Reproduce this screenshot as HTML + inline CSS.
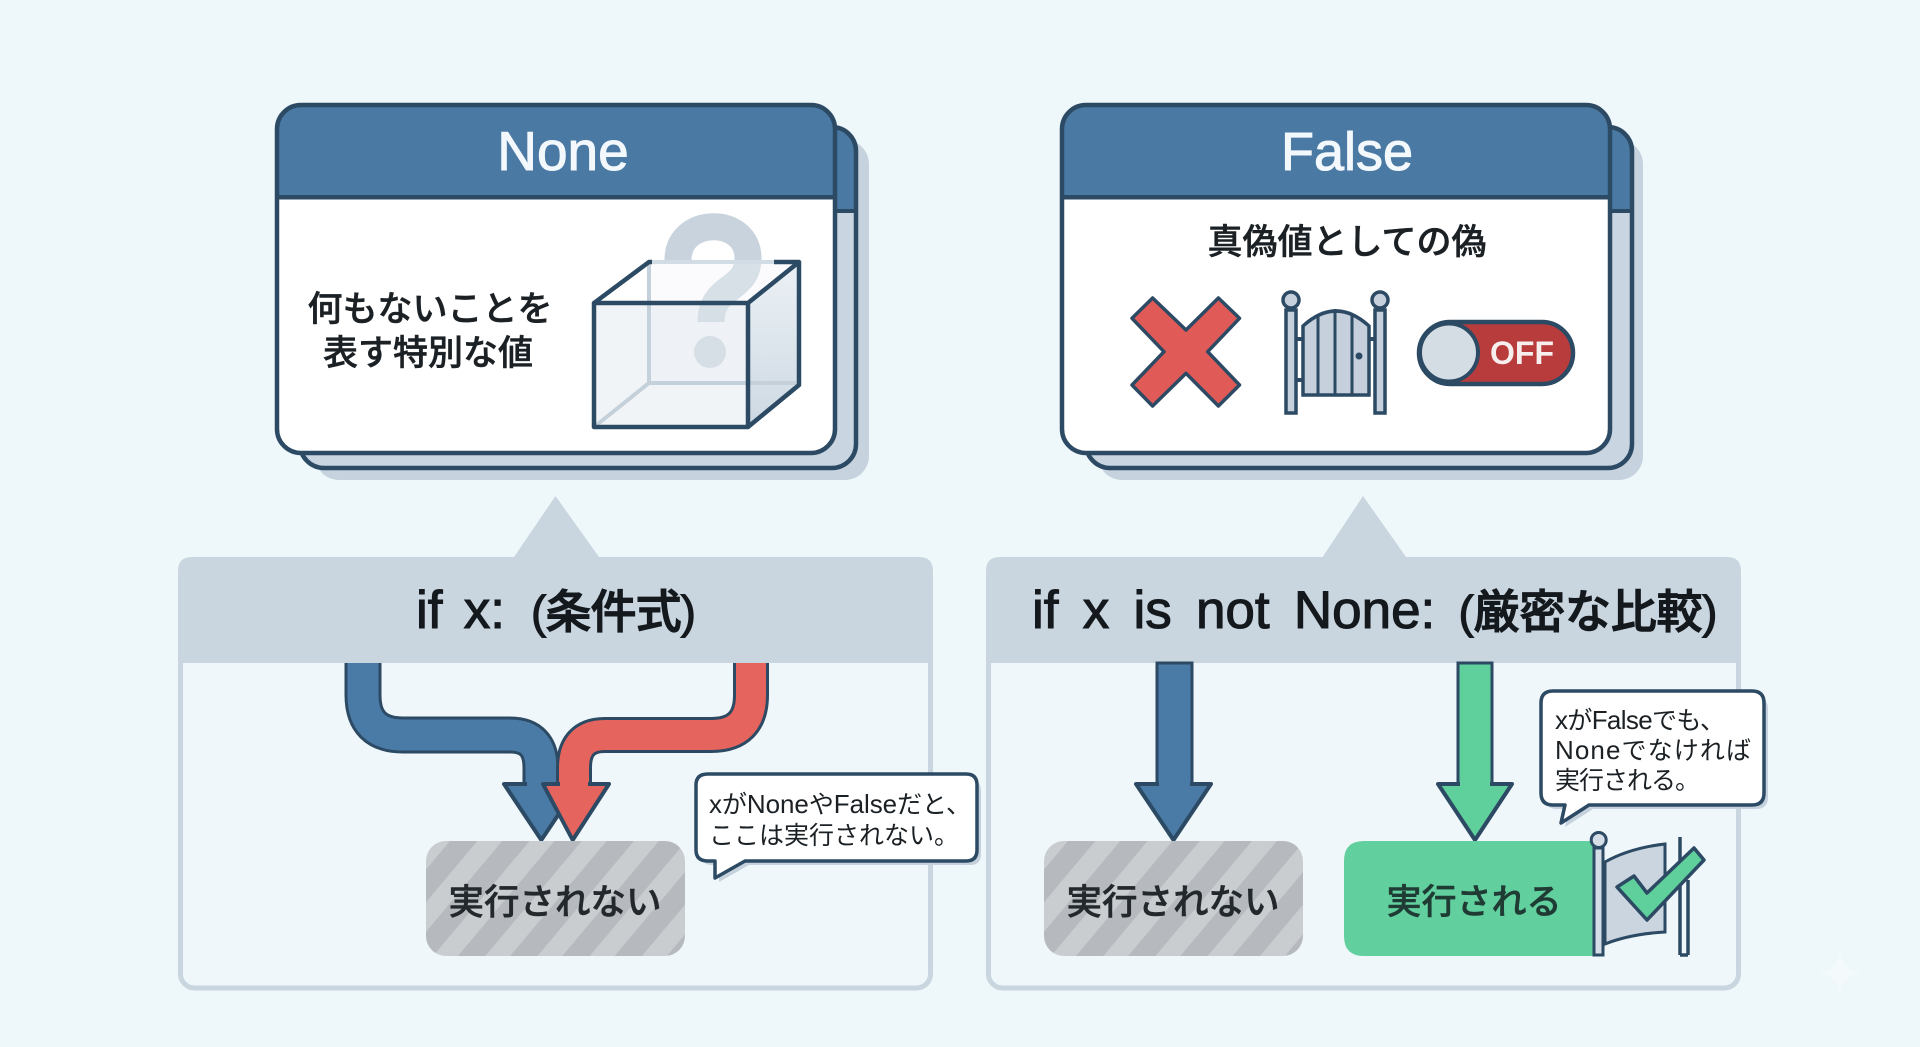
<!DOCTYPE html>
<html lang="ja"><head><meta charset="utf-8"><title>None と False</title>
<style>
html,body{margin:0;padding:0;width:1920px;height:1047px;overflow:hidden;background:#eef7fa}
svg{display:block}
text{font-family:"Liberation Sans","Noto Sans CJK JP",sans-serif}
.m{stroke:currentColor;stroke-width:.5px}
.h{stroke:#f2f8fb;stroke-width:1px}
.l{stroke:#14191d;stroke-width:1.1px}
</style></head><body>
<svg width="1920" height="1047" viewBox="0 0 1920 1047" xmlns="http://www.w3.org/2000/svg">
<defs>
<pattern id="st" width="40" height="40" patternUnits="userSpaceOnUse" patternTransform="translate(426 840) rotate(40)">
<rect width="40" height="40" fill="#b6babe"/><rect width="19" height="40" fill="#c9cdd0"/>
</pattern>
<linearGradient id="rf" x1="0" y1="0" x2="0" y2="1"><stop offset="0" stop-color="#dbe5ec" stop-opacity=".5"/><stop offset="1" stop-color="#c6d3de" stop-opacity=".9"/></linearGradient>
<clipPath id="c1"><rect x="277" y="105" width="558" height="348" rx="24"/></clipPath>
<clipPath id="c1b"><rect x="300" y="127" width="556" height="341" rx="24"/></clipPath>
<clipPath id="c2"><rect x="1062" y="105" width="548" height="348" rx="24"/></clipPath>
<clipPath id="c2b"><rect x="1086" y="127" width="546" height="341" rx="24"/></clipPath>
</defs>
<rect width="1920" height="1047" fill="#eef7fa"/>

<!-- None card -->
<rect x="315" y="140" width="554" height="340" rx="24" fill="#c6d2de"/>
<rect x="300" y="127" width="556" height="341" rx="24" fill="#c9d5e0"/>
<g clip-path="url(#c1b)"><rect x="300" y="127" width="556" height="83" fill="#4a79a4"/><rect x="300" y="209" width="556" height="4" fill="#2c4a63"/></g>
<rect x="300" y="127" width="556" height="341" rx="24" fill="none" stroke="#2c4a63" stroke-width="4.500"/>
<rect x="277" y="105" width="558" height="348" rx="24" fill="#fff"/>
<g clip-path="url(#c1)"><rect x="277" y="105" width="558" height="92" fill="#4a79a4"/><rect x="277" y="195" width="558" height="4.500" fill="#2c4a63"/></g>
<rect x="277" y="105" width="558" height="348" rx="24" fill="none" stroke="#2c4a63" stroke-width="4.500"/>
<text class="h" x="563" y="170" font-size="55" fill="#f2f8fb" text-anchor="middle">None</text>
<g font-size="35" font-weight="500" fill="#1b2024" color="#1b2024" text-anchor="middle">
<text class="m" x="430" y="321">何もないことを</text>
<text class="m" x="428" y="365">表す特別な値</text>
</g>
<!-- mystery box -->
<path d="M678 260C678 216 748 216 748 258C748 292 711 284 711 322" fill="none" stroke="#c8d3dd" stroke-width="27"/>
<ellipse cx="710" cy="352" rx="16" ry="16" fill="#c8d3dd"/>
<path d="M649 262H799V385H649Z" fill="#e6edf3" fill-opacity=".2"/>
<path d="M594 303L649 262H799L748 303Z" fill="#fff" fill-opacity=".2"/>
<path d="M594 303H748V427H594Z" fill="#dfe7ee" fill-opacity=".45"/>
<path d="M748 303L799 262V385L748 427Z" fill="url(#rf)"/>
<path d="M594 427L649 383H799" fill="none" stroke="#c4d0da" stroke-width="4"/>
<path d="M649 262V383" stroke="#c4d0da" stroke-width="4"/>
<path d="M651 262H774" stroke="#d2dce4" stroke-width="4"/>
<path d="M594 303H748V427H594ZM748 303L799 262V385L748 427M594 303L649 262H652M774 262H799" fill="none" stroke="#2c4a63" stroke-width="4.500" stroke-linejoin="round"/>

<!-- False card -->
<rect x="1098" y="140" width="545" height="340" rx="24" fill="#c6d2de"/>
<rect x="1086" y="127" width="546" height="341" rx="24" fill="#c9d5e0"/>
<g clip-path="url(#c2b)"><rect x="1086" y="127" width="546" height="83" fill="#4a79a4"/><rect x="1086" y="209" width="546" height="4" fill="#2c4a63"/></g>
<rect x="1086" y="127" width="546" height="341" rx="24" fill="none" stroke="#2c4a63" stroke-width="4.500"/>
<rect x="1062" y="105" width="548" height="348" rx="24" fill="#fff"/>
<g clip-path="url(#c2)"><rect x="1062" y="105" width="548" height="92" fill="#4a79a4"/><rect x="1062" y="195" width="548" height="4.500" fill="#2c4a63"/></g>
<rect x="1062" y="105" width="548" height="348" rx="24" fill="none" stroke="#2c4a63" stroke-width="4.500"/>
<text class="h" x="1347" y="170" font-size="54" fill="#f2f8fb" text-anchor="middle">False</text>
<text class="m" x="1347" y="254" font-size="35" font-weight="500" fill="#1b2024" color="#1b2024" text-anchor="middle">真偽値としての偽</text>
<!-- X -->
<polygon points="1152.600,298 1186,330 1218.400,298 1239.500,318.300 1207.700,351.700 1239.500,385 1218.400,406 1186,373.300 1152.600,406 1132,385 1164,351.700 1132,318.300" fill="#e05a58" stroke="#2c4a63" stroke-width="3.500" stroke-linejoin="round"/>
<!-- gate -->
<path d="M1303 395V326Q1336 296 1369 326V395Z" fill="#c5d0dc" stroke="#2c4a63" stroke-width="3.500"/>
<path d="M1318 315V395M1335 309V395M1352 315V395" stroke="#2c4a63" stroke-width="3" fill="none"/>
<circle cx="1359" cy="356" r="3.500" fill="#2c4a63"/>
<path d="M1296 339H1304M1296 380H1304M1368 339H1376" stroke="#2c4a63" stroke-width="4"/>
<rect x="1286" y="310" width="10" height="103" fill="#c5d0dc" stroke="#2c4a63" stroke-width="3.500"/>
<rect x="1375" y="310" width="10" height="103" fill="#c5d0dc" stroke="#2c4a63" stroke-width="3.500"/>
<circle cx="1291" cy="300" r="8" fill="#c5d0dc" stroke="#2c4a63" stroke-width="3.500"/>
<circle cx="1380" cy="300" r="8" fill="#c5d0dc" stroke="#2c4a63" stroke-width="3.500"/>
<!-- toggle -->
<rect x="1419" y="322" width="154" height="62" rx="31" fill="#b93c3c" stroke="#2c4a63" stroke-width="4.500"/>
<circle cx="1449" cy="352.500" r="29" fill="#d5dde4" stroke="#2c4a63" stroke-width="4"/>
<text x="1522" y="364" font-size="32" font-weight="700" fill="#f7eeee" text-anchor="middle">OFF</text>

<!-- left panel -->
<polygon points="555.500,496 514,557 599,557" fill="#c9d5df"/>
<rect x="180.500" y="580" width="750" height="408" rx="14" fill="#eff7fa" stroke="#c9d5df" stroke-width="5"/>
<path d="M178 663V571Q178 557 192 557H919Q933 557 933 571V663Z" fill="#c9d5df"/>
<text class="l" x="416" y="628" font-size="53" fill="#14191d" style="word-spacing:6.500px">if x:</text>
<text class="l" x="531" y="628" font-size="46" font-weight="500" fill="#14191d" textLength="165" lengthAdjust="spacing">(条件式)</text>
<!-- merged arrows -->
<path d="M363 663V695Q363 735 403 735H510Q541 735 541 768V790" fill="none" stroke="#2c4a63" stroke-width="37"/>
<path d="M363 663V695Q363 735 403 735H510Q541 735 541 768V790" fill="none" stroke="#4a7ba6" stroke-width="31"/>
<polygon points="504,784 579,784 541.300,840" fill="#4a7ba6" stroke="#2c4a63" stroke-width="4" stroke-linejoin="round"/>
<rect x="527" y="780" width="28" height="8" fill="#4a7ba6"/>
<path d="M751 663V695Q751 735 711 735H605Q574 735 574 768V790" fill="none" stroke="#2c4a63" stroke-width="36"/>
<path d="M751 663V695Q751 735 711 735H605Q574 735 574 768V790" fill="none" stroke="#e5645e" stroke-width="30"/>
<polygon points="543,784 609,784 572.700,840" fill="#e5645e" stroke="#2c4a63" stroke-width="4" stroke-linejoin="round"/>
<rect x="560" y="780" width="28" height="8" fill="#e5645e"/>
<rect x="426" y="841" width="259" height="115" rx="20" fill="url(#st)"/>
<text class="m" x="555" y="914" font-size="35.500" font-weight="500" fill="#22282c" color="#22282c" text-anchor="middle">実行されない</text>
<!-- bubble 1 -->
<path d="M712 776H966Q977 776 977 787V850Q977 861 966 861H745L715 878V861H708Q697 861 697 850V787Q697 776 708 776Z" fill="#c5d1dc" transform="translate(4 4)"/>
<path d="M708 774H966Q977 774 977 785V850Q977 861 966 861H745L715 878V861H708Q696 861 696 850V785Q696 774 708 774Z" fill="#fff" stroke="#2c4a63" stroke-width="3.500" stroke-linejoin="round"/>
<g font-size="25" fill="#1b2024">
<text x="709" y="813" textLength="262" lengthAdjust="spacing"><tspan font-size="26">x</tspan>が<tspan font-size="26">None</tspan>や<tspan font-size="26">False</tspan>だと、</text>
<text x="709" y="844" textLength="250" lengthAdjust="spacing">ここは実行されない。</text>
</g>

<!-- right panel -->
<polygon points="1363,496 1322.600,557 1406,557" fill="#c9d5df"/>
<rect x="988.500" y="580" width="750" height="408" rx="14" fill="#eff7fa" stroke="#c9d5df" stroke-width="5"/>
<path d="M986 663V571Q986 557 1000 557H1727Q1741 557 1741 571V663Z" fill="#c9d5df"/>
<text class="l" x="1032" y="628" font-size="53" fill="#14191d" style="word-spacing:9.500px">if x is not None:</text>
<text class="l" x="1458.500" y="628" font-size="46" font-weight="500" fill="#14191d" textLength="259" lengthAdjust="spacing">(厳密な比較)</text>
<!-- blue arrow -->
<rect x="1157" y="663" width="35" height="122" fill="#4a7ba6" stroke="#2c4a63" stroke-width="3"/>
<polygon points="1136,784 1211,784 1173.500,840" fill="#4a7ba6" stroke="#2c4a63" stroke-width="4" stroke-linejoin="round"/>
<rect x="1159" y="780" width="31" height="8" fill="#4a7ba6"/>
<!-- green arrow -->
<rect x="1458" y="663" width="34" height="122" fill="#5fcf9c" stroke="#2c4a63" stroke-width="3"/>
<polygon points="1438,784 1512,784 1475,840" fill="#5fcf9c" stroke="#2c4a63" stroke-width="4" stroke-linejoin="round"/>
<rect x="1460" y="780" width="30" height="8" fill="#5fcf9c"/>
<!-- gray box 2 -->
<g transform="translate(618 0)"><rect x="426" y="841" width="259" height="115" rx="20" fill="url(#st)"/></g>
<text class="m" x="1173" y="914" font-size="35.500" font-weight="500" fill="#22282c" color="#22282c" text-anchor="middle">実行されない</text>
<!-- green box -->
<path d="M1364 841H1596V956H1364Q1344 956 1344 936V861Q1344 841 1364 841Z" fill="#62cf9e"/>
<text class="m" x="1474" y="914" font-size="35" font-weight="500" fill="#1f3b34" color="#1f3b34" text-anchor="middle">実行される</text>
<!-- flag -->
<path d="M1605 862Q1630 848 1665 844V932Q1630 934 1605 944Z" fill="#cbd5df" stroke="#2c4a63" stroke-width="3"/>
<rect x="1594" y="848" width="9" height="107" fill="#d5dee6" stroke="#2c4a63" stroke-width="3"/>
<circle cx="1598.700" cy="840" r="7.500" fill="#d5dee6" stroke="#2c4a63" stroke-width="3"/>
<path d="M1680 837V955M1688 880V955M1680 955H1688" fill="none" stroke="#2c4a63" stroke-width="3.500"/>
<polygon points="1634,876 1647,893 1694,848 1704,860 1647,920 1617,887" fill="#5fcf9c" stroke="#2c4a63" stroke-width="3.500" stroke-linejoin="round"/>
<!-- bubble 2 -->
<path d="M1553 693H1752Q1764 693 1764 705V793Q1764 805 1752 805H1589L1561 823L1565 805H1553Q1541 805 1541 793V705Q1541 693 1553 693Z" fill="#c5d1dc" transform="translate(4 4)"/>
<path d="M1553 691H1752Q1764 691 1764 703V793Q1764 805 1752 805H1589L1561 823L1565 805H1553Q1541 805 1541 793V703Q1541 691 1553 691Z" fill="#fff" stroke="#2c4a63" stroke-width="3.500" stroke-linejoin="round"/>
<g font-size="25" fill="#1b2024">
<text x="1555" y="729" textLength="170" lengthAdjust="spacing"><tspan font-size="26">x</tspan>が<tspan font-size="26">False</tspan>でも、</text>
<text x="1555" y="759" textLength="196" lengthAdjust="spacing"><tspan font-size="26">None</tspan>でなければ</text>
<text x="1555" y="789" textLength="145" lengthAdjust="spacing">実行される。</text>
</g>
<!-- sparkle -->
<path d="M1840 952Q1843 970 1862 973Q1843 976 1840 994Q1837 976 1818 973Q1837 970 1840 952Z" fill="#fff" fill-opacity=".35"/>
</svg>
</body></html>
